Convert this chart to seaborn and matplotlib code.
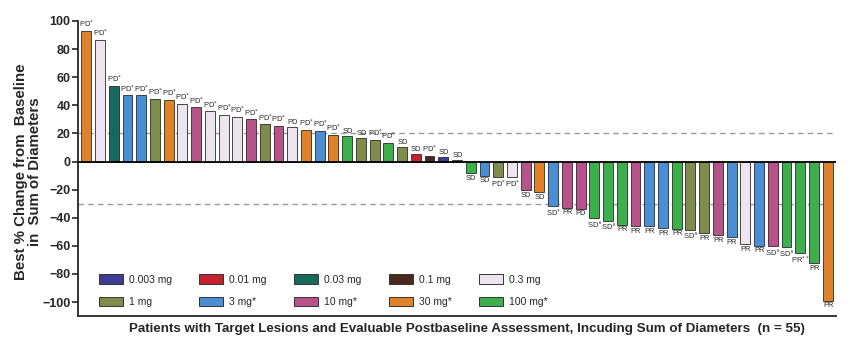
import matplotlib
matplotlib.use("Agg")
import matplotlib.pyplot as plt
from matplotlib.patches import Patch
import seaborn as sns
import pandas as pd

# Dose cohorts and their colours
doses = ["0.003 mg", "0.01 mg", "0.03 mg", "0.1 mg", "0.3 mg",
         "1 mg", "3 mg*", "10 mg*", "30 mg*", "100 mg*"]
dose_colors = ["#3e3c95", "#c9202f", "#17695b", "#4a2a1c", "#eee4f0",
               "#7f8c4c", "#4a8fd4", "#b8538a", "#df8229", "#3cb14b"]

# Best % change from baseline per patient (sorted waterfall order)
pct_change = [93, 86.5, 54, 47, 47, 44.7, 44, 41, 38.5, 35.7,
              33, 32, 30, 26.5, 25.5, 24.8, 22.7, 22, 19, 18.4,
              17, 15.6, 13.4, 10.6, 5.7, 4, 3.5, 1, -8.5, -10,
              -11, -11, -20.5, -22, -32, -33, -33.8, -40.5, -42, -45,
              -46, -46, -47.5, -48, -48.5, -51, -52.5, -54, -59, -60,
              -60, -60.7, -65, -72.5, -99]

patient_dose = ["30 mg*", "0.3 mg", "0.03 mg", "3 mg*", "3 mg*", "1 mg", "30 mg*", "0.3 mg", "10 mg*", "0.3 mg",
                "0.3 mg", "0.3 mg", "10 mg*", "1 mg", "10 mg*", "0.3 mg", "30 mg*", "3 mg*", "30 mg*", "100 mg*",
                "1 mg", "1 mg", "100 mg*", "1 mg", "0.01 mg", "0.1 mg", "0.003 mg", "1 mg", "100 mg*", "3 mg*",
                "1 mg", "0.3 mg", "10 mg*", "30 mg*", "3 mg*", "10 mg*", "10 mg*", "100 mg*", "100 mg*", "100 mg*",
                "10 mg*", "3 mg*", "3 mg*", "100 mg*", "1 mg", "1 mg", "10 mg*", "3 mg*", "0.3 mg", "3 mg*",
                "10 mg*", "100 mg*", "100 mg*", "100 mg*", "30 mg*"]

responses = ["PD$^{*}$", "PD$^{*}$", "PD$^{*}$", "PD$^{*}$", "PD$^{*}$", "PD$^{*}$", "PD$^{*}$", "PD$^{*}$", "PD$^{*}$", "PD$^{*}$",
             "PD$^{*}$", "PD$^{*}$", "PD$^{*}$", "PD$^{*}$", "PD$^{*}$", "PD", "PD$^{*}$", "PD$^{*}$", "PD$^{*}$", "SD",
             "SD", "PD$^{*}$", "PD$^{*}$", "SD", "SD", "PD$^{*}$", "SD", "SD", "SD", "SD",
             "PD$^{*}$", "PD$^{*}$", "SD", "SD", "SD$^{*}$", "PR", "PD", "SD$^{\\wedge}$", "SD$^{\\wedge}$", "PR",
             "PR", "PR", "PR", "PR", "SD$^{\\wedge}$", "PR", "PR", "PR", "PR", "PR",
             "SD$^{\\wedge}$", "SD$^{\\wedge}$", "PR$^{**}$", "PR", "PR"]

patients = [f"P{i + 1}" for i in range(len(pct_change))]

df = pd.DataFrame({"patient": patients, "change": pct_change, "dose": patient_dose})

sns.set_style("ticks")
plt.rcParams["font.family"] = ["Liberation Sans", "DejaVu Sans"]

fig = plt.figure(figsize=(8.5, 3.47), dpi=100)
ax = fig.add_axes([0.0918, 0.089, 0.8917, 0.8505])

palette = dict(zip(doses, dose_colors))
sns.barplot(data=df, x="patient", y="change", hue="dose", order=patients,
            hue_order=doses, palette=palette, dodge=False, width=0.72,
            edgecolor="#2a2a2a", linewidth=0.6, saturation=1, legend=False, ax=ax)

# Response labels above/below each bar
for i, (val, lab) in enumerate(zip(pct_change, responses)):
    if val >= 0:
        ax.annotate(lab, (i, val), xytext=(0.3, 0.5), textcoords="offset points",
                    ha="center", va="bottom", fontsize=5.4, annotation_clip=False)
    else:
        ax.annotate(lab, (i, val), xytext=(0.3, -1), textcoords="offset points",
                    ha="center", va="top", fontsize=5.4, annotation_clip=False)

# Reference thresholds
for yref in (20, -30):
    ax.axhline(yref, color="#9a9a9a", lw=1.0, ls=(0, (4, 3)), zorder=0)
ax.axhline(0, color="black", lw=1.3, zorder=3)

ax.set_xlim(-0.6, len(pct_change) - 0.4)
ax.set_ylim(-110, 100)
ax.set_yticks(range(-100, 101, 20))
ax.set_xticks([])
ax.tick_params(axis="y", labelsize=9, width=1.2, length=4, direction="out", pad=1.5)
for t in ax.get_yticklabels():
    t.set_fontweight("bold")

ax.spines["top"].set_visible(False)
ax.spines["right"].set_visible(False)
ax.spines["left"].set_linewidth(1.3)
ax.spines["bottom"].set_linewidth(1.3)
ax.spines["left"].set_bounds(-110, 100)

ax.set_ylabel("Best % Change from  Baseline\nin  Sum of Diameters", fontsize=10.8,
              fontweight="bold", linespacing=1.0)
ax.yaxis.set_label_coords(-0.047, 0.49)
ax.set_xlabel("Patients with Target Lesions and Evaluable Postbaseline Assessment, "
              "Incuding Sum of Diameters  (n = 55)", fontsize=9.6, fontweight="bold")
ax.xaxis.set_label_coords(0.513, -0.025)
ax.xaxis.label.set_va("top")

# Legend: two rows of five, filled row-wise
handles = [Patch(facecolor=c, edgecolor="#333333", linewidth=0.7, label=d)
           for d, c in zip(doses, dose_colors)]
ordered = []
for col in range(5):
    ordered += [handles[col], handles[col + 5]]
ax.legend(handles=ordered, ncol=5, loc="lower left", bbox_to_anchor=(0.015, 0.0),
          frameon=False, fontsize=7.5, handlelength=2.3, handleheight=1.0,
          handletextpad=0.6, columnspacing=2.6, labelspacing=1.15)

fig.savefig("out.png", dpi=100)
